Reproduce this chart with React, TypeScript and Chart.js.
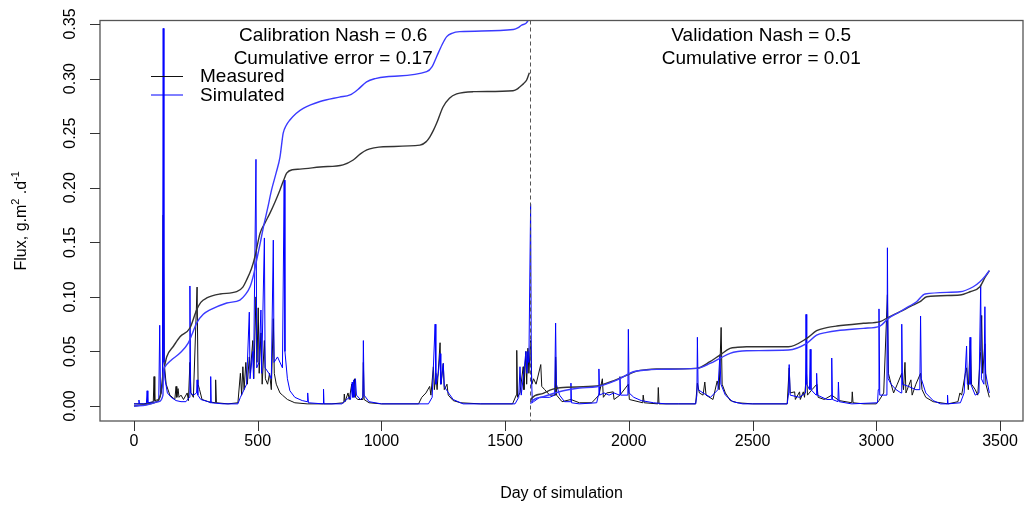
import { useEffect, useRef } from 'react';
import { Chart, registerables } from 'chart.js';

Chart.register(...registerables);

// ---------- data ----------
const xTicks = [0, 500, 1000, 1500, 2000, 2500, 3000, 3500];
const yTicks = [0, 0.05, 0.1, 0.15, 0.2, 0.25, 0.3, 0.35];
const yTickLabels = ['0.00', '0.05', '0.10', '0.15', '0.20', '0.25', '0.30', '0.35'];
const splitDay = 1600;

const calibrationText = ['Calibration Nash = 0.6', 'Cumulative error = 0.17'];
const validationText = ['Validation Nash = 0.5', 'Cumulative error = 0.01'];
const legendLabels = ['Measured', 'Simulated'];

// daily flux, measured (day, flux)
const measuredFlux: [number, number][] = [
  [0, 0.002], [40, 0.002], [78, 0.004], [81, 0.027], [84, 0.005], [100, 0.006], [110, 0.012], [115, 0.02],
  [118, 0.175], [122, 0.04], [130, 0.02], [145, 0.01], [165, 0.006], [170, 0.018], [173, 0.008], [178, 0.016],
  [182, 0.008], [190, 0.01], [200, 0.006], [215, 0.012], [220, 0.005], [226, 0.04], [230, 0.012], [240, 0.008],
  [255, 0.109], [259, 0.02], [265, 0.015], [275, 0.006], [300, 0.004], [328, 0.003], [330, 0.024], [333, 0.003],
  [380, 0.002], [420, 0.003], [430, 0.03], [435, 0.01], [440, 0.036], [445, 0.015], [452, 0.04], [458, 0.02],
  [466, 0.045], [470, 0.03], [480, 0.06], [484, 0.025], [493, 0.1], [497, 0.04], [502, 0.09], [506, 0.03],
  [513, 0.067], [518, 0.02], [527, 0.06], [531, 0.025], [540, 0.02], [548, 0.03], [555, 0.015], [563, 0.08],
  [567, 0.03], [575, 0.02], [590, 0.012], [600, 0.01], [620, 0.006], [650, 0.003], [700, 0.002], [800, 0.002],
  [848, 0.003], [850, 0.011], [853, 0.004], [865, 0.012], [870, 0.006], [880, 0.02], [885, 0.008], [892, 0.025],
  [895, 0.008], [905, 0.006], [925, 0.006], [927, 0.04], [930, 0.006], [950, 0.003], [1000, 0.002], [1150, 0.002],
  [1163, 0.008], [1180, 0.012], [1195, 0.018], [1200, 0.01], [1210, 0.036], [1214, 0.015], [1220, 0.03],
  [1225, 0.015], [1237, 0.058], [1241, 0.02], [1250, 0.039], [1254, 0.015], [1265, 0.02], [1270, 0.01],
  [1290, 0.005], [1320, 0.003], [1400, 0.002], [1530, 0.002], [1545, 0.01], [1547, 0.051], [1550, 0.008],
  [1560, 0.012], [1573, 0.036], [1576, 0.015], [1584, 0.05], [1587, 0.02], [1592, 0.053], [1596, 0.03],
  [1603, 0.06], [1608, 0.02], [1615, 0.025], [1625, 0.02], [1644, 0.038], [1648, 0.018], [1660, 0.015],
  [1680, 0.01], [1702, 0.01], [1704, 0.045], [1708, 0.01], [1730, 0.004], [1766, 0.006], [1800, 0.003],
  [1850, 0.003], [1879, 0.01], [1893, 0.025], [1897, 0.008], [1910, 0.012], [1937, 0.013], [1940, 0.006],
  [1964, 0.01], [1998, 0.02], [2002, 0.006], [2056, 0.003], [2058, 0.01], [2062, 0.003], [2117, 0.002],
  [2119, 0.017], [2122, 0.002], [2200, 0.002], [2270, 0.002], [2277, 0.021], [2285, 0.012], [2300, 0.01],
  [2307, 0.022], [2312, 0.01], [2340, 0.006], [2357, 0.023], [2365, 0.015], [2373, 0.072], [2377, 0.02],
  [2390, 0.012], [2410, 0.005], [2440, 0.003], [2500, 0.002], [2640, 0.002], [2648, 0.035], [2652, 0.012],
  [2670, 0.013], [2673, 0.006], [2690, 0.013], [2693, 0.006], [2705, 0.013], [2710, 0.008], [2718, 0.03],
  [2722, 0.01], [2740, 0.015], [2760, 0.02], [2765, 0.008], [2790, 0.006], [2820, 0.01], [2850, 0.005],
  [2901, 0.003], [2903, 0.013], [2906, 0.003], [2950, 0.002], [3000, 0.002], [3011, 0.005], [3030, 0.012],
  [3045, 0.102], [3049, 0.03], [3060, 0.02], [3070, 0.012], [3085, 0.02], [3103, 0.03], [3110, 0.015],
  [3116, 0.04], [3120, 0.012], [3140, 0.024], [3145, 0.01], [3160, 0.02], [3179, 0.03], [3185, 0.015],
  [3200, 0.008], [3230, 0.004], [3290, 0.002], [3330, 0.004], [3338, 0.012], [3345, 0.01], [3360, 0.03],
  [3365, 0.035], [3372, 0.015], [3380, 0.06], [3385, 0.02], [3400, 0.015], [3410, 0.01], [3422, 0.05],
  [3426, 0.083], [3430, 0.03], [3439, 0.057], [3443, 0.02], [3457, 0.008],
];

// daily flux, simulated (day, flux)
const simulatedFlux: [number, number][] = [
  [0, 0.002], [18, 0.002], [20, 0.0055], [22, 0.002], [50, 0.002], [53, 0.014], [56, 0.003], [100, 0.004],
  [104, 0.074], [107, 0.01], [115, 0.02], [118, 0.346], [121, 0.04], [125, 0.025], [135, 0.012], [150, 0.008],
  [170, 0.005], [190, 0.004], [210, 0.004], [224, 0.008], [226, 0.11], [229, 0.012], [240, 0.01], [253, 0.012],
  [255, 0.024], [258, 0.01], [270, 0.006], [300, 0.004], [308, 0.003], [310, 0.027], [312, 0.003], [360, 0.002],
  [420, 0.002], [430, 0.008], [445, 0.015], [455, 0.02], [466, 0.086], [469, 0.025], [480, 0.05], [483, 0.025],
  [493, 0.226], [496, 0.035], [505, 0.04], [513, 0.088], [516, 0.03], [527, 0.154], [530, 0.035], [545, 0.03],
  [555, 0.025], [563, 0.152], [566, 0.04], [580, 0.045], [600, 0.035], [607, 0.207], [610, 0.05], [620, 0.025],
  [630, 0.014], [650, 0.008], [680, 0.005], [700, 0.004], [702, 0.012], [705, 0.003], [764, 0.002],
  [766, 0.0155], [768, 0.002], [840, 0.002], [870, 0.008], [875, 0.006], [882, 0.022], [885, 0.008],
  [888, 0.024], [891, 0.008], [895, 0.025], [899, 0.01], [915, 0.006], [925, 0.008], [927, 0.06], [930, 0.01],
  [950, 0.004], [1000, 0.002], [1190, 0.002], [1205, 0.008], [1217, 0.075], [1220, 0.02], [1230, 0.03],
  [1237, 0.048], [1240, 0.02], [1250, 0.039], [1254, 0.018], [1265, 0.014], [1290, 0.006], [1330, 0.002],
  [1540, 0.002], [1555, 0.008], [1560, 0.036], [1565, 0.01], [1575, 0.03], [1584, 0.05], [1588, 0.03],
  [1592, 0.05], [1596, 0.04], [1603, 0.185], [1606, 0.03], [1610, 0.003], [1615, 0.004], [1640, 0.008],
  [1680, 0.008], [1700, 0.01], [1704, 0.076], [1707, 0.02], [1720, 0.01], [1740, 0.004], [1764, 0.004],
  [1766, 0.021], [1768, 0.003], [1800, 0.002], [1870, 0.003], [1877, 0.01], [1879, 0.034], [1882, 0.01],
  [1900, 0.012], [1920, 0.01], [1940, 0.012], [1962, 0.01], [1964, 0.027], [1967, 0.01], [1996, 0.01],
  [1998, 0.0703], [2001, 0.012], [2020, 0.008], [2050, 0.005], [2100, 0.003], [2150, 0.002], [2270, 0.002],
  [2275, 0.01], [2277, 0.063], [2280, 0.015], [2300, 0.012], [2330, 0.008], [2360, 0.015], [2368, 0.047],
  [2372, 0.02], [2390, 0.01], [2420, 0.004], [2460, 0.002], [2640, 0.002], [2646, 0.012], [2648, 0.038],
  [2652, 0.01], [2690, 0.008], [2714, 0.012], [2716, 0.084], [2719, 0.02], [2730, 0.015], [2733, 0.052],
  [2736, 0.015], [2757, 0.01], [2759, 0.03], [2762, 0.01], [2800, 0.006], [2818, 0.006], [2820, 0.044],
  [2823, 0.006], [2845, 0.004], [2847, 0.022], [2850, 0.004], [2900, 0.002], [3005, 0.003], [3008, 0.015],
  [3011, 0.089], [3014, 0.01], [3030, 0.01], [3043, 0.01], [3045, 0.145], [3048, 0.025], [3060, 0.02],
  [3080, 0.015], [3100, 0.012], [3103, 0.075], [3106, 0.02], [3130, 0.018], [3160, 0.015], [3176, 0.015],
  [3179, 0.0825], [3182, 0.025], [3200, 0.012], [3230, 0.005], [3260, 0.002], [3286, 0.002], [3288, 0.01],
  [3290, 0.002], [3340, 0.003], [3355, 0.012], [3365, 0.055], [3368, 0.02], [3377, 0.02], [3379, 0.063],
  [3382, 0.02], [3400, 0.01], [3415, 0.012], [3422, 0.111], [3425, 0.025], [3435, 0.02], [3439, 0.091],
  [3442, 0.03], [3457, 0.012],
];

// scaled cumulative flux, calibration period
const calMeasuredCum: [number, number][] = [
  [0, 0.0], [80, 0.003], [105, 0.008], [118, 0.03], [125, 0.038], [132, 0.045], [160, 0.055], [186, 0.0635],
  [226, 0.0715], [253, 0.088], [270, 0.095], [294, 0.099], [348, 0.1026], [415, 0.1048], [440, 0.109],
  [455, 0.1155], [475, 0.126], [489, 0.137], [509, 0.158], [530, 0.168], [550, 0.177], [570, 0.187],
  [590, 0.198], [605, 0.207], [617, 0.2133], [640, 0.2165], [671, 0.217], [752, 0.219], [845, 0.221],
  [886, 0.2254], [915, 0.231], [941, 0.2346], [970, 0.2365], [1007, 0.2376], [1156, 0.239], [1180, 0.242],
  [1196, 0.2467], [1210, 0.2525], [1223, 0.259], [1249, 0.274], [1275, 0.282], [1304, 0.2859], [1371, 0.288],
  [1532, 0.2889], [1550, 0.2905], [1560, 0.2926], [1575, 0.2955], [1587, 0.2987], [1598, 0.3054],
];
const calSimulatedCum: [number, number][] = [
  [0, 0.0], [50, 0.001], [100, 0.004], [117, 0.01], [119, 0.03], [125, 0.036], [150, 0.042], [186, 0.0486],
  [219, 0.0577], [235, 0.066], [253, 0.076], [280, 0.084], [307, 0.088], [375, 0.0944], [428, 0.0971],
  [450, 0.102], [469, 0.1093], [483, 0.12], [496, 0.134], [510, 0.149], [523, 0.164], [540, 0.181],
  [556, 0.198], [575, 0.214], [590, 0.228], [603, 0.25], [615, 0.257], [630, 0.262], [655, 0.268],
  [684, 0.2727], [752, 0.279], [830, 0.283], [873, 0.285], [905, 0.29], [940, 0.297], [975, 0.3], [1021, 0.3017],
  [1183, 0.3063], [1205, 0.311], [1223, 0.32], [1245, 0.331], [1264, 0.3384], [1285, 0.3415], [1317, 0.343],
  [1533, 0.345], [1555, 0.347], [1567, 0.349], [1594, 0.3537], [1600, 0.362],
];

// scaled cumulative flux, validation period
const valMeasuredCum: [number, number][] = [
  [1603, 0.005], [1607, 0.007], [1654, 0.0116], [1690, 0.0152], [1722, 0.0168], [1870, 0.0183],
  [1930, 0.0225], [1978, 0.0269], [2032, 0.032], [2070, 0.0333], [2112, 0.0339], [2274, 0.0345],
  [2328, 0.0406], [2368, 0.0467], [2409, 0.0528], [2440, 0.0538], [2476, 0.0543], [2645, 0.0543],
  [2719, 0.062], [2759, 0.069], [2800, 0.0718], [2840, 0.0733], [2948, 0.0758], [3015, 0.0773],
  [3049, 0.0813], [3096, 0.0864], [3140, 0.0915], [3177, 0.0956], [3204, 0.1001], [3338, 0.1017],
  [3379, 0.1047], [3419, 0.1093], [3440, 0.118], [3457, 0.124],
];
const valSimulatedCum: [number, number][] = [
  [1603, 0.002], [1607, 0.004], [1654, 0.0085], [1735, 0.014], [1800, 0.0165], [1870, 0.0177],
  [1951, 0.0238], [2018, 0.0314], [2060, 0.0328], [2112, 0.0336], [2274, 0.0345], [2328, 0.039],
  [2368, 0.0437], [2409, 0.0483], [2440, 0.05], [2476, 0.0507], [2645, 0.0513], [2719, 0.0574],
  [2759, 0.065], [2800, 0.0675], [2840, 0.069], [2948, 0.0712], [3015, 0.0733], [3049, 0.0803],
  [3096, 0.0864], [3130, 0.091], [3163, 0.0956], [3197, 0.1026], [3338, 0.1047], [3392, 0.1093],
  [3419, 0.1139], [3440, 0.119], [3457, 0.124],
];

const BLUE = '#0000ff';
const BLACK = '#111111';
const FONT = '"Liberation Sans", Arial, Helvetica, sans-serif';

const toXY = (arr: [number, number][]) => arr.map(([x, y]) => ({ x, y }));

const decorPlugin = {
  id: 'rdecor',
  afterDatasetsDraw(chart: any) {
    const { ctx, chartArea: a, scales } = chart;
    const xs = scales.x;
    const ys = scales.y;
    ctx.save();

    // dashed split line
    const sx = Math.round(xs.getPixelForValue(splitDay)) + 0.5;
    ctx.strokeStyle = '#555555';
    ctx.lineWidth = 1;
    ctx.setLineDash([4, 3]);
    ctx.beginPath();
    ctx.moveTo(sx, a.top);
    ctx.lineTo(sx, a.bottom);
    ctx.stroke();
    ctx.setLineDash([]);

    // box
    ctx.strokeStyle = '#555555';
    ctx.lineWidth = 1.3;
    ctx.strokeRect(a.left, a.top, a.right - a.left, a.bottom - a.top);

    // ticks
    ctx.lineWidth = 1;
    ctx.strokeStyle = '#333333';
    ctx.beginPath();
    xTicks.forEach((t) => {
      const px = Math.round(xs.getPixelForValue(t)) + 0.5;
      ctx.moveTo(px, a.bottom);
      ctx.lineTo(px, a.bottom + 10);
    });
    yTicks.forEach((t) => {
      const py = Math.round(ys.getPixelForValue(t)) + 0.5;
      ctx.moveTo(a.left, py);
      ctx.lineTo(a.left - 10, py);
    });
    ctx.stroke();

    ctx.fillStyle = '#000000';
    ctx.font = `16px ${FONT}`;
    ctx.textAlign = 'center';
    ctx.textBaseline = 'middle';
    xTicks.forEach((t) => {
      ctx.fillText(String(t), xs.getPixelForValue(t), 442);
    });
    yTicks.forEach((t, i) => {
      ctx.save();
      ctx.translate(71, ys.getPixelForValue(t));
      ctx.rotate(-Math.PI / 2);
      ctx.fillText(yTickLabels[i], 0, 0);
      ctx.restore();
    });

    // axis titles
    ctx.fillText('Day of simulation', (a.left + a.right) / 2, 494);
    ctx.save();
    ctx.translate(22, (a.top + a.bottom) / 2);
    ctx.rotate(-Math.PI / 2);
    const parts: [string, boolean][] = [['Flux, g.m', false], ['2', true], [' .d', false], ['-1', true]];
    const big = `16px ${FONT}`;
    const small = `11px ${FONT}`;
    let total = 0;
    parts.forEach(([s, sup]) => {
      ctx.font = sup ? small : big;
      total += ctx.measureText(s).width;
    });
    let cx = -total / 2;
    ctx.textAlign = 'left';
    parts.forEach(([s, sup]) => {
      ctx.font = sup ? small : big;
      ctx.fillText(s, cx, sup ? -6 : 0);
      cx += ctx.measureText(s).width;
    });
    ctx.restore();

    // annotations
    ctx.font = `19px ${FONT}`;
    ctx.textAlign = 'center';
    ctx.fillText(calibrationText[0], xs.getPixelForValue(805), ys.getPixelForValue(0.339));
    ctx.fillText(calibrationText[1], xs.getPixelForValue(805), ys.getPixelForValue(0.318));
    ctx.fillText(validationText[0], xs.getPixelForValue(2535), ys.getPixelForValue(0.339));
    ctx.fillText(validationText[1], xs.getPixelForValue(2535), ys.getPixelForValue(0.318));

    // legend
    const ly = [76, 94.5];
    const lc = [BLACK, BLUE];
    ctx.textAlign = 'left';
    legendLabels.forEach((lab, i) => {
      ctx.strokeStyle = lc[i];
      ctx.lineWidth = 1;
      ctx.beginPath();
      ctx.moveTo(151, ly[i] + 0.5);
      ctx.lineTo(183, ly[i] + 0.5);
      ctx.stroke();
      ctx.fillStyle = '#000000';
      ctx.fillText(lab, 200, ly[i] + 1);
    });

    ctx.restore();
  },
};

export default function App() {
  const ref = useRef<HTMLCanvasElement | null>(null);

  useEffect(() => {
    if (!ref.current) return;
    const line = (data: [number, number][], color: string, width: number, smooth: boolean) => ({
      data: toXY(data),
      borderColor: color,
      backgroundColor: color,
      borderWidth: width,
      pointRadius: 0,
      tension: 0,
      cubicInterpolationMode: smooth ? 'monotone' : 'default',
      fill: false,
      clip: 0,
    });
    const chart = new Chart(ref.current, {
      type: 'line',
      data: {
        datasets: [
          line(calSimulatedCum, '#3a3aff', 1.4, true),
          line(valSimulatedCum, '#3a3aff', 1.4, true),
          line(calMeasuredCum, '#333333', 1.4, true),
          line(valMeasuredCum, '#333333', 1.4, true),
          line(simulatedFlux, BLUE, 1, false),
          line(measuredFlux, BLACK, 1, false),
        ] as any,
      },
      options: {
        responsive: false,
        maintainAspectRatio: false,
        animation: false,
        events: [],
        layout: { padding: { left: 100, top: 20.5, right: 2, bottom: 92 } },
        plugins: { legend: { display: false }, tooltip: { enabled: false } },
        scales: {
          x: { type: 'linear', min: -137.4, max: 3593, display: false },
          y: { type: 'linear', min: -0.0137, max: 0.3532, display: false },
        },
      },
      plugins: [decorPlugin],
    });
    return () => chart.destroy();
  }, []);

  return (
    <div style={{ position: 'absolute', left: 0, top: 0, width: 1025, height: 513, background: '#ffffff' }}>
      <canvas ref={ref} width={1025} height={513} style={{ display: 'block' }} />
    </div>
  );
}
